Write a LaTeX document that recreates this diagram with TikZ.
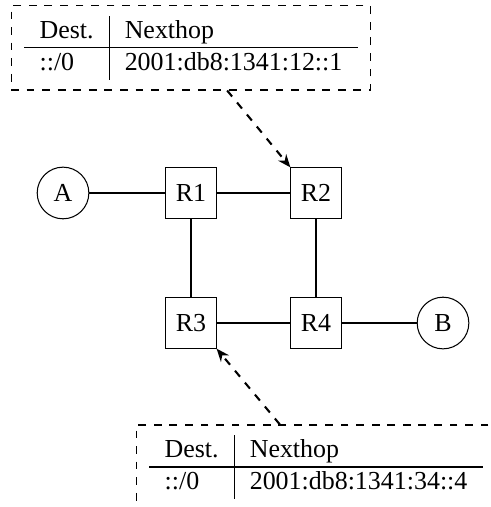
\documentclass[tikz,border=0pt]{standalone}
\usepackage{fontspec}
\setmainfont{Liberation Serif}
\usetikzlibrary{positioning,arrows.meta}
\begin{document}
\begin{tikzpicture}[x=1cm,y=1cm,
    router/.style={draw,minimum size=0.68cm,inner sep=0pt},
    host/.style={draw,circle,minimum size=0.70cm,inner sep=0pt},
    link/.style={line width=0.8pt},
    routetable/.style={draw,dashed,inner xsep=5pt,inner ysep=4pt},
    pointer/.style={line width=0.8pt,dashed,-{Stealth[length=5pt,width=4pt]}}]
  \def\hdist{1.694}
  \def\vdist{1.762}
  \useasboundingbox (-2.588,-4.255) rectangle (4.065,2.615);

  % routers and hosts
  \node[router] (R1) at (0,0) {R1};
  \node[router] (R2) at (\hdist,0) {R2};
  \node[router] (R3) at (0,-\vdist) {R3};
  \node[router] (R4) at (\hdist,-\vdist) {R4};
  \node[host] (A) at (-1.734,0) {A};
  \node[host] (B) at (3.415,-\vdist) {B};

  \foreach \from/\to in {A/R1,R1/R2,R1/R3,R2/R4,R3/R4,R4/B}
    \draw[link] (\from) -- (\to);

  % routing tables
  \node[routetable] (T2) at (0,1.965) {%
    \begin{tabular}{l|l}
      Dest. & Nexthop\\ \hline
      ::/0 & 2001:db8:1341:12::1
    \end{tabular}};
  \node[routetable] (T3) at (\hdist,{-\vdist-1.951}) {%
    \begin{tabular}{l|l}
      Dest. & Nexthop\\ \hline
      ::/0 & 2001:db8:1341:34::4
    \end{tabular}};

  \draw[pointer] ([xshift=0.49cm]T2.south) -- (R2.north west);
  \draw[pointer] ([xshift=-0.49cm]T3.north) -- (R3.south east);
\end{tikzpicture}
\end{document}
